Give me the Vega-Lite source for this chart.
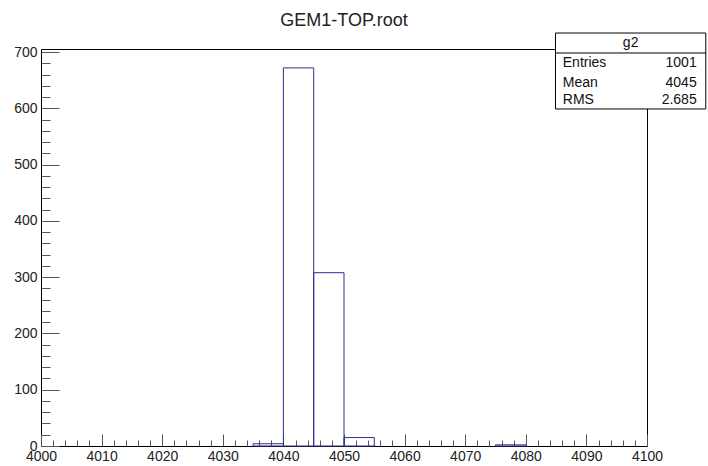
{
  "$schema": "https://vega.github.io/schema/vega-lite/v6.json",
  "width": 606,
  "height": 397,
  "autosize": "none",
  "padding": {"left": 41, "top": 49, "right": 61, "bottom": 20},
  "title": {"text": "GEM1-TOP.root", "fontSize": 18, "fontWeight": "normal", "font": "Liberation Sans", "color": "#222", "anchor": "middle", "baseline": "alphabetic", "offset": 0, "dy": 11},
  "config": {
    "view": {"stroke": "#000", "strokeWidth": 1},
    "font": "Liberation Sans",
    "axis": {"grid": false, "domain": false, "labelFontSize": 14, "labelColor": "#222", "tickColor": "#555", "title": null, "labelFont": "Liberation Sans"},
    "text": {"font": "Liberation Sans", "fontSize": 14, "color": "#111"}
  },
  "datasets": {
    "bins": [
      {"bin_start": 4000, "bin_end": 4005, "count": 0},
      {"bin_start": 4005, "bin_end": 4010, "count": 0},
      {"bin_start": 4010, "bin_end": 4015, "count": 0},
      {"bin_start": 4015, "bin_end": 4020, "count": 0},
      {"bin_start": 4020, "bin_end": 4025, "count": 0},
      {"bin_start": 4025, "bin_end": 4030, "count": 0},
      {"bin_start": 4030, "bin_end": 4035, "count": 0},
      {"bin_start": 4035, "bin_end": 4040, "count": 4},
      {"bin_start": 4040, "bin_end": 4045, "count": 672},
      {"bin_start": 4045, "bin_end": 4050, "count": 308},
      {"bin_start": 4050, "bin_end": 4055, "count": 15},
      {"bin_start": 4055, "bin_end": 4060, "count": 0},
      {"bin_start": 4060, "bin_end": 4065, "count": 0},
      {"bin_start": 4065, "bin_end": 4070, "count": 0},
      {"bin_start": 4070, "bin_end": 4075, "count": 0},
      {"bin_start": 4075, "bin_end": 4080, "count": 2},
      {"bin_start": 4080, "bin_end": 4085, "count": 0},
      {"bin_start": 4085, "bin_end": 4090, "count": 0},
      {"bin_start": 4090, "bin_end": 4095, "count": 0},
      {"bin_start": 4095, "bin_end": 4100, "count": 0}
    ],
    "box": [{"name": "g2"}],
    "stats": [
      {"stat": "Entries", "value": "1001"},
      {"stat": "Mean", "value": "4045"},
      {"stat": "RMS", "value": "2.685"}
    ]
  },
  "resolve": {"axis": {"x": "independent", "y": "independent"}},
  "layer": [
    {
      "data": {"name": "bins"},
      "transform": [{"filter": "datum.count > 0"}],
      "mark": {"type": "rect", "fill": "transparent", "stroke": "#2e2e90", "strokeWidth": 1},
      "encoding": {
        "x": {"field": "bin_start", "type": "quantitative", "scale": {"domain": [4000, 4100], "nice": false, "zero": false},
          "axis": {"orient": "bottom", "values": [4000, 4010, 4020, 4030, 4040, 4050, 4060, 4070, 4080, 4090, 4100], "format": "d", "tickSize": -12, "labelPadding": 15, "labelFlush": false}},
        "x2": {"field": "bin_end"},
        "y": {"field": "count", "type": "quantitative", "scale": {"domain": [0, 705.6], "nice": false},
          "axis": {"orient": "left", "values": [0, 100, 200, 300, 400, 500, 600, 700], "format": "d", "tickSize": -18, "labelPadding": 22}},
        "y2": {"datum": 0}
      }
    },
    {
      "data": {"name": "box"},
      "mark": {"type": "rect", "fill": "white", "stroke": "#000", "strokeWidth": 1},
      "encoding": {
        "x": {"datum": 4084.9, "type": "quantitative",
          "axis": {"orient": "bottom", "values": [4002,4004,4006,4008,4012,4014,4016,4018,4022,4024,4026,4028,4032,4034,4036,4038,4042,4044,4046,4048,4052,4054,4056,4058,4062,4064,4066,4068,4072,4074,4076,4078,4082,4084,4086,4088,4092,4094,4096,4098], "labels": false, "tickSize": -6}},
        "x2": {"datum": 4109.7},
        "y": {"datum": 734, "type": "quantitative",
          "axis": {"orient": "left", "values": [20,40,60,80,120,140,160,180,220,240,260,280,320,340,360,380,420,440,460,480,520,540,560,580,620,640,660,680], "labels": false, "tickSize": -9}},
        "y2": {"datum": 599}
      }
    },
    {
      "data": {"name": "box"},
      "mark": {"type": "rule", "color": "#000", "strokeWidth": 1},
      "encoding": {
        "x": {"datum": 4084.9, "type": "quantitative", "axis": null},
        "x2": {"datum": 4109.7},
        "y": {"datum": 698.5, "type": "quantitative", "axis": null}
      }
    },
    {
      "data": {"name": "box"},
      "mark": {"type": "text", "align": "center", "baseline": "middle"},
      "encoding": {
        "text": {"field": "name"},
        "x": {"datum": 4097.3, "type": "quantitative", "axis": null},
        "y": {"datum": 716.8, "type": "quantitative", "axis": null}
      }
    },
    {
      "data": {"name": "stats"},
      "transform": [{"filter": "datum.stat == 'Entries'"}],
      "layer": [
        {"mark": {"type": "text", "align": "left", "baseline": "middle"},
         "encoding": {"text": {"field": "stat"}, "x": {"datum": 4086.1, "type": "quantitative", "axis": null}, "y": {"datum": 681.3, "type": "quantitative", "axis": null}}},
        {"mark": {"type": "text", "align": "right", "baseline": "middle"},
         "encoding": {"text": {"field": "value"}, "x": {"datum": 4108.2, "type": "quantitative", "axis": null}, "y": {"datum": 681.3, "type": "quantitative", "axis": null}}}
      ]
    },
    {
      "data": {"name": "stats"},
      "transform": [{"filter": "datum.stat == 'Mean'"}],
      "layer": [
        {"mark": {"type": "text", "align": "left", "baseline": "middle"},
         "encoding": {"text": {"field": "stat"}, "x": {"datum": 4086.1, "type": "quantitative", "axis": null}, "y": {"datum": 645.7, "type": "quantitative", "axis": null}}},
        {"mark": {"type": "text", "align": "right", "baseline": "middle"},
         "encoding": {"text": {"field": "value"}, "x": {"datum": 4108.2, "type": "quantitative", "axis": null}, "y": {"datum": 645.7, "type": "quantitative", "axis": null}}}
      ]
    },
    {
      "data": {"name": "stats"},
      "transform": [{"filter": "datum.stat == 'RMS'"}],
      "layer": [
        {"mark": {"type": "text", "align": "left", "baseline": "middle"},
         "encoding": {"text": {"field": "stat"}, "x": {"datum": 4086.1, "type": "quantitative", "axis": null}, "y": {"datum": 615.0, "type": "quantitative", "axis": null}}},
        {"mark": {"type": "text", "align": "right", "baseline": "middle"},
         "encoding": {"text": {"field": "value"}, "x": {"datum": 4108.2, "type": "quantitative", "axis": null}, "y": {"datum": 615.0, "type": "quantitative", "axis": null}}}
      ]
    }
  ]
}
